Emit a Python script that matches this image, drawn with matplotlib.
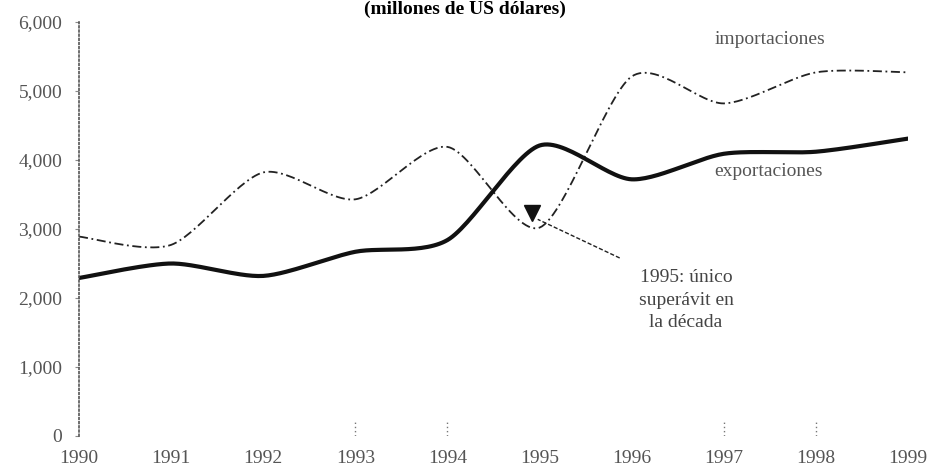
import numpy as np
import matplotlib
matplotlib.use('Agg')
import matplotlib.pyplot as plt
from matplotlib import rcParams

rcParams['font.family'] = 'Liberation Serif'

# Balanza comercial, millones de US dolares
years = [1990, 1991, 1992, 1993, 1994, 1995, 1996, 1997, 1998, 1999]
importaciones = [2890, 2770, 3820, 3430, 4190, 3020, 5210, 4820, 5270, 5270]
exportaciones = [2290, 2500, 2320, 2670, 2840, 4210, 3720, 4090, 4120, 4310]
yticks = [0, 1000, 2000, 3000, 4000, 5000, 6000]
marked_years = [1993, 1994, 1997, 1998]


def smooth(x, y, n=30, tension=0.8):
    """Cardinal spline through the points, like the smoothed line of a spreadsheet"""
    x = np.asarray(x, float)
    y = np.asarray(y, float)
    px = np.concatenate([[x[0]], x, [x[-1]]])
    py = np.concatenate([[y[0]], y, [y[-1]]])
    xs, ys = [], []
    t = np.linspace(0, 1, n, endpoint=False)
    h00 = 2*t**3 - 3*t**2 + 1
    h10 = t**3 - 2*t**2 + t
    h01 = -2*t**3 + 3*t**2
    h11 = t**3 - t**2
    for i in range(1, len(px)-2):
        for p, out in ((px, xs), (py, ys)):
            m1 = tension*(p[i+1]-p[i-1])/2
            m2 = tension*(p[i+2]-p[i])/2
            out.extend(h00*p[i] + h10*m1 + h01*p[i+1] + h11*m2)
    xs.append(x[-1])
    ys.append(y[-1])
    return np.array(xs), np.array(ys)


fig = plt.figure(figsize=(9.30, 4.72), dpi=100)
ax = fig.add_axes([79/930, 36/472, 829/930, 414/472])

xi, yi = smooth(years, importaciones)
ax.plot(xi, yi, color='#222222', lw=1.3, ls=(0, (5, 2, 1, 2)))
xe, ye = smooth(years, exportaciones)
ax.plot(xe, ye, color='#111111', lw=3.0, solid_capstyle='round')

ax.set_xlim(1990, 1999)
ax.set_ylim(0, 6000)
ax.set_xticks(years)
ax.set_xticklabels([str(y) for y in years])
ax.set_yticks(yticks)
ax.set_yticklabels(['{:,}'.format(v) for v in yticks])
for s in ['top', 'right', 'bottom']:
    ax.spines[s].set_visible(False)
ax.spines['left'].set_linestyle((0, (1, 1.5)))
ax.spines['left'].set_color('#555555')
ax.spines['left'].set_linewidth(1.2)
ax.tick_params(axis='y', length=3, color='#888888', labelcolor='#555555', labelsize=14, pad=9)
ax.tick_params(axis='x', length=0, labelcolor='#555555', labelsize=14, pad=10)

# small dotted marks above some years
for yr in marked_years:
    ax.plot([yr, yr], [0, 220], color='#777777', lw=1.0, ls=(0, (1, 2)))

ax.text(1996.9, 5740, 'importaciones', fontsize=14, color='#555555', ha='left', va='center')
ax.text(1996.9, 3830, 'exportaciones', fontsize=14, color='#555555', ha='left', va='center')

# dashed leader ending in a downward triangle
ax.plot([1995.87, 1994.98], [2580, 3140], color='#222222', lw=1.0, ls=(0, (3, 1.5)))
ax.plot([1994.92], [3230], marker='v', ms=11, color='#111111')
ax.text(1996.59, 1970, '1995: único\nsuperávit en\nla década', fontsize=14, color='#444444',
        ha='center', va='center', linespacing=1.4)

fig.text(0.5, 0.999, '(millones de US dólares)', fontsize=14, fontweight='bold',
         ha='center', va='top')

fig.savefig('out.png', dpi=100)
